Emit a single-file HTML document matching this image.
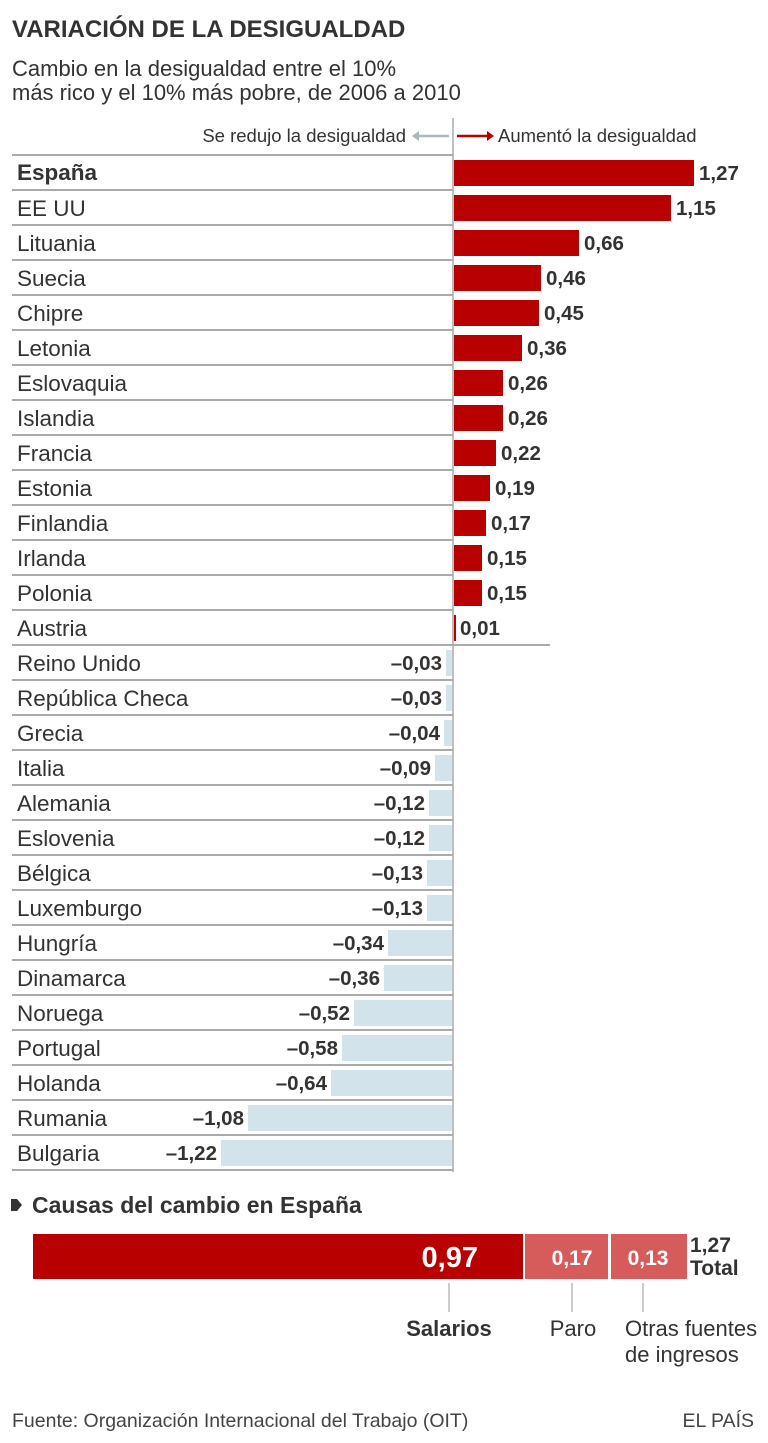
<!DOCTYPE html>
<html><head><meta charset="utf-8"><style>
html,body{margin:0;padding:0;background:#fff;}
svg{display:block;font-family:"Liberation Sans",sans-serif;}
.c{font-size:22.5px;fill:#333;}
.v{font-size:20.5px;font-weight:bold;fill:#333;}
.p{fill:#b80000;}
.n{fill:#d2e3eb;}
.l{stroke:#aaa;stroke-width:2;}
</style></head><body>
<svg width="768" height="1443" viewBox="0 0 768 1443">
<text x="12" y="37" font-size="24" font-weight="bold" fill="#333">VARIACIÓN DE LA DESIGUALDAD</text>
<text x="12" y="76" font-size="22" fill="#333">Cambio en la desigualdad entre el 10%</text>
<text x="12" y="100" font-size="22" fill="#333">más rico y el 10% más pobre, de 2006 a 2010</text>
<text x="406" y="142" font-size="18.5" fill="#333" text-anchor="end">Se redujo la desigualdad</text>
<line x1="414" y1="136" x2="449" y2="136" stroke="#aab8bd" stroke-width="2.5"/>
<path d="M412 136 l7 -5 v10z" fill="#aab8bd"/>
<line x1="457" y1="136" x2="488" y2="136" stroke="#b80000" stroke-width="2.5"/>
<path d="M494 136 l-7 -5 v10z" fill="#b80000"/>
<text x="498" y="142" font-size="18.5" fill="#333">Aumentó la desigualdad</text>
<line x1="453" y1="118" x2="453" y2="1172" stroke="#aaa" stroke-width="1.5"/>
<g class="l">
<line x1="12" y1="155" x2="453" y2="155"/><line x1="12" y1="190" x2="453" y2="190"/><line x1="12" y1="225" x2="453" y2="225"/><line x1="12" y1="260" x2="453" y2="260"/><line x1="12" y1="295" x2="453" y2="295"/><line x1="12" y1="330" x2="453" y2="330"/><line x1="12" y1="365" x2="453" y2="365"/><line x1="12" y1="400" x2="453" y2="400"/><line x1="12" y1="435" x2="453" y2="435"/><line x1="12" y1="470" x2="453" y2="470"/><line x1="12" y1="505" x2="453" y2="505"/><line x1="12" y1="540" x2="453" y2="540"/><line x1="12" y1="575" x2="453" y2="575"/><line x1="12" y1="610" x2="453" y2="610"/><line x1="12" y1="645" x2="550" y2="645"/><line x1="12" y1="680" x2="453" y2="680"/><line x1="12" y1="715" x2="453" y2="715"/><line x1="12" y1="750" x2="453" y2="750"/><line x1="12" y1="785" x2="453" y2="785"/><line x1="12" y1="820" x2="453" y2="820"/><line x1="12" y1="855" x2="453" y2="855"/><line x1="12" y1="890" x2="453" y2="890"/><line x1="12" y1="925" x2="453" y2="925"/><line x1="12" y1="960" x2="453" y2="960"/><line x1="12" y1="995" x2="453" y2="995"/><line x1="12" y1="1030" x2="453" y2="1030"/><line x1="12" y1="1065" x2="453" y2="1065"/><line x1="12" y1="1100" x2="453" y2="1100"/><line x1="12" y1="1135" x2="453" y2="1135"/><line x1="12" y1="1170" x2="453" y2="1170"/>
</g>
<text class="c" x="17" y="180" font-weight="bold">España</text><rect class="p" x="454" y="160" width="240" height="26"/><text class="v" x="699" y="180">1,27</text>
<text class="c" x="17" y="216">EE UU</text><rect class="p" x="454" y="195" width="217" height="26"/><text class="v" x="676" y="215">1,15</text>
<text class="c" x="17" y="251">Lituania</text><rect class="p" x="454" y="230" width="125" height="26"/><text class="v" x="584" y="250">0,66</text>
<text class="c" x="17" y="286">Suecia</text><rect class="p" x="454" y="265" width="87" height="26"/><text class="v" x="546" y="285">0,46</text>
<text class="c" x="17" y="321">Chipre</text><rect class="p" x="454" y="300" width="85" height="26"/><text class="v" x="544" y="320">0,45</text>
<text class="c" x="17" y="356">Letonia</text><rect class="p" x="454" y="335" width="68" height="26"/><text class="v" x="527" y="355">0,36</text>
<text class="c" x="17" y="391">Eslovaquia</text><rect class="p" x="454" y="370" width="49" height="26"/><text class="v" x="508" y="390">0,26</text>
<text class="c" x="17" y="426">Islandia</text><rect class="p" x="454" y="405" width="49" height="26"/><text class="v" x="508" y="425">0,26</text>
<text class="c" x="17" y="461">Francia</text><rect class="p" x="454" y="440" width="42" height="26"/><text class="v" x="501" y="460">0,22</text>
<text class="c" x="17" y="496">Estonia</text><rect class="p" x="454" y="475" width="36" height="26"/><text class="v" x="495" y="495">0,19</text>
<text class="c" x="17" y="531">Finlandia</text><rect class="p" x="454" y="510" width="32" height="26"/><text class="v" x="491" y="530">0,17</text>
<text class="c" x="17" y="566">Irlanda</text><rect class="p" x="454" y="545" width="28" height="26"/><text class="v" x="487" y="565">0,15</text>
<text class="c" x="17" y="601">Polonia</text><rect class="p" x="454" y="580" width="28" height="26"/><text class="v" x="487" y="600">0,15</text>
<text class="c" x="17" y="636">Austria</text><rect class="p" x="454" y="615" width="2" height="26"/><text class="v" x="460" y="635">0,01</text>
<g class="v" text-anchor="end">
<text x="442" y="670">–0,03</text><text x="442" y="705">–0,03</text><text x="440" y="740">–0,04</text><text x="431" y="775">–0,09</text><text x="425" y="810">–0,12</text><text x="425" y="845">–0,12</text><text x="423" y="880">–0,13</text><text x="423" y="915">–0,13</text><text x="384" y="950">–0,34</text><text x="380" y="985">–0,36</text><text x="350" y="1020">–0,52</text><text x="338" y="1055">–0,58</text><text x="327" y="1090">–0,64</text><text x="244" y="1125">–1,08</text><text x="217" y="1160">–1,22</text>
</g>
<rect class="n" x="446" y="650" width="6" height="26"/><rect class="n" x="446" y="685" width="6" height="26"/><rect class="n" x="444" y="720" width="8" height="26"/><rect class="n" x="435" y="755" width="17" height="26"/><rect class="n" x="429" y="790" width="23" height="26"/><rect class="n" x="429" y="825" width="23" height="26"/><rect class="n" x="427" y="860" width="25" height="26"/><rect class="n" x="427" y="895" width="25" height="26"/><rect class="n" x="388" y="930" width="64" height="26"/><rect class="n" x="384" y="965" width="68" height="26"/><rect class="n" x="354" y="1000" width="98" height="26"/><rect class="n" x="342" y="1035" width="110" height="26"/><rect class="n" x="331" y="1070" width="121" height="26"/><rect class="n" x="248" y="1105" width="204" height="26"/><rect class="n" x="221" y="1140" width="231" height="26"/>
<g class="c">
<text x="17" y="671">Reino Unido</text><text x="17" y="706">República Checa</text><text x="17" y="741">Grecia</text><text x="17" y="776">Italia</text><text x="17" y="811">Alemania</text><text x="17" y="846">Eslovenia</text><text x="17" y="881">Bélgica</text><text x="17" y="916">Luxemburgo</text><text x="17" y="951">Hungría</text><text x="17" y="986">Dinamarca</text><text x="17" y="1021">Noruega</text><text x="17" y="1056">Portugal</text><text x="17" y="1091">Holanda</text><text x="17" y="1126">Rumania</text><text x="17" y="1161">Bulgaria</text>
</g>
<path d="M11 1199 h6 l5 6 l-5 6 h-6z" fill="#333"/>
<text x="32" y="1213" font-size="23" font-weight="bold" fill="#333">Causas del cambio en España</text>
<rect x="33" y="1234" width="490" height="45" fill="#b80000"/>
<rect x="525" y="1234" width="83" height="45" fill="#d65b5b"/>
<rect x="611" y="1234" width="76" height="45" fill="#d65b5b"/>
<text x="478" y="1267" font-size="29" font-weight="bold" fill="#fff" text-anchor="end">0,97</text>
<text x="572" y="1265" font-size="21" font-weight="bold" fill="#fff" text-anchor="middle">0,17</text>
<text x="648" y="1265" font-size="21" font-weight="bold" fill="#fff" text-anchor="middle">0,13</text>
<text x="690" y="1252" font-size="21" font-weight="bold" fill="#333">1,27</text>
<text x="690" y="1275" font-size="21" font-weight="bold" fill="#333">Total</text>
<g stroke="#999" stroke-width="1"><line x1="449" y1="1283" x2="449" y2="1312"/><line x1="572" y1="1283" x2="572" y2="1312"/><line x1="643" y1="1283" x2="643" y2="1312"/></g>
<text x="449" y="1336" font-size="22" font-weight="bold" fill="#333" text-anchor="middle">Salarios</text>
<text x="573" y="1336" font-size="22" fill="#333" text-anchor="middle">Paro</text>
<text x="625" y="1336" font-size="22" fill="#333">Otras fuentes</text>
<text x="625" y="1362" font-size="22" fill="#333">de ingresos</text>
<text x="12" y="1427" font-size="19.5" fill="#444">Fuente: Organización Internacional del Trabajo (OIT)</text>
<text x="754" y="1427" font-size="19.5" fill="#444" text-anchor="end">EL PAÍS</text>
</svg>
</body></html>
